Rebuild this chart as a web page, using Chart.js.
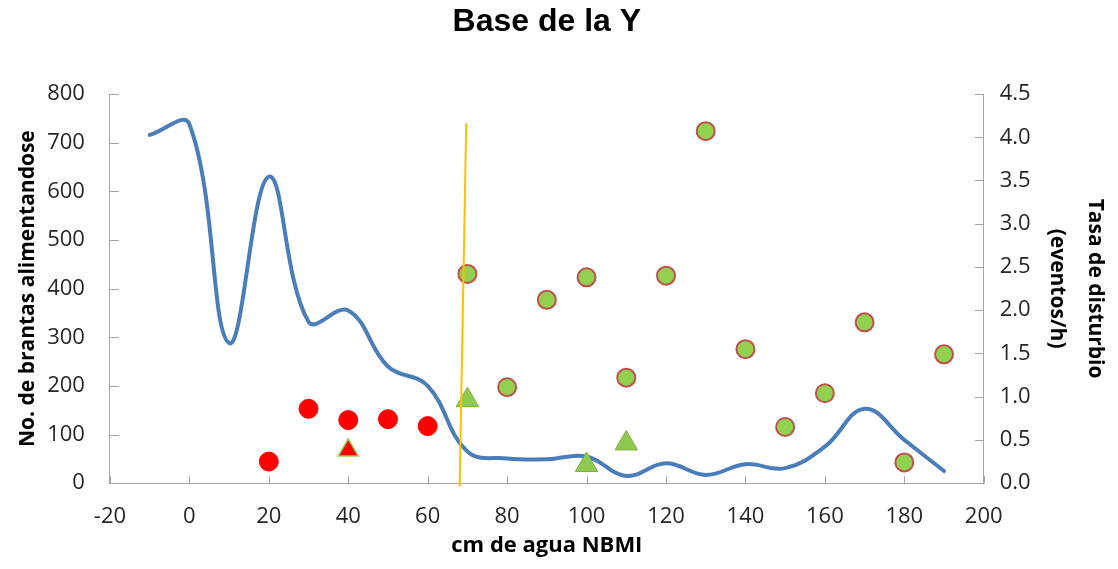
<!DOCTYPE html>
<html>
<head>
<meta charset="utf-8">
<script src="https://cdn.jsdelivr.net/npm/chart.js@4/dist/chart.umd.min.js"></script>
<style>
html,body{margin:0;padding:0;background:#fff;}
#wrap{width:1118px;height:569px;}
</style>
</head>
<body>
<div id="wrap"><canvas id="c" width="1118" height="569"></canvas></div>
<script>
// ---- data ----
const lineX = [-10, 0, 10, 20, 30, 40, 50, 60, 70, 80, 90, 100, 110, 120, 130, 140, 150, 160, 170, 180, 190];
const brantas = [716, 738, 288, 630, 332, 355, 240, 200, 65, 51, 49, 55, 15, 41, 17, 39, 31, 75, 153, 89, 25];

const greenCircleX = [70, 80, 90, 100, 110, 120, 130, 140, 150, 160, 170, 180, 190];
const greenCircleY = [2.42, 1.11, 2.12, 2.38, 1.22, 2.40, 4.07, 1.55, 0.65, 1.04, 1.86, 0.24, 1.49];

const redCircleX = [20, 30, 40, 50, 60];
const redCircleY = [0.25, 0.86, 0.73, 0.74, 0.66];

const greenTriX = [70, 100, 110];
const greenTriY = [0.96, 0.21, 0.46];

const redTriX = [40];
const redTriY = [0.38];

const thresholdX = [69.7, 68.05];
const thresholdY = [740, -7];

const xMin = -20, xMax = 200, xStep = 20;
const yMin = 0, yMax = 800, yStep = 100;
const y2Min = 0, y2Max = 4.5, y2Step = 0.5;

const titleText = 'Base de la Y';
const xTitle = 'cm de agua NBMI';
const yTitle = 'No. de brantas alimentandose';
const y2Title = ['Tasa de disturbio', '(eventos/h)'];

const pts = (xs, ys) => xs.map((x, i) => ({x: x, y: ys[i]}));

const axisColor = '#a6a6a6';
const tickFont = {family: "'Open Sans', sans-serif", size: 22};
const axTitleFont = {family: "'Open Sans', sans-serif", size: 21, weight: 'bold'};

const innerTicks = {
  id: 'innerTicks',
  beforeDatasetsDraw(chart) {
    const {ctx, chartArea: a, scales} = chart;
    ctx.save();
    ctx.strokeStyle = axisColor;
    ctx.lineWidth = 1;
    ctx.beginPath();
    scales.x.ticks.forEach(t => {
      const px = Math.round(scales.x.getPixelForValue(t.value)) + 0.5;
      ctx.moveTo(px, a.bottom); ctx.lineTo(px, a.bottom - 7);
    });
    scales.y.ticks.forEach(t => {
      const py = Math.round(scales.y.getPixelForValue(t.value)) + 0.5;
      ctx.moveTo(a.left, py); ctx.lineTo(a.left + 9, py);
    });
    scales.y2.ticks.forEach(t => {
      const py = Math.round(scales.y2.getPixelForValue(t.value)) + 0.5;
      ctx.moveTo(a.right, py); ctx.lineTo(a.right - 9, py);
    });
    ctx.stroke();
    ctx.restore();
  }
};

new Chart(document.getElementById('c'), {
  type: 'scatter',
  data: {
    datasets: [
      {
        label: 'umbral',
        data: pts(thresholdX, thresholdY),
        yAxisID: 'y',
        showLine: true,
        borderColor: '#ffc000',
        borderWidth: 2,
        pointRadius: 0,
        clip: false
      },
      {
        label: 'tri rojo',
        data: pts(redTriX, redTriY),
        yAxisID: 'y2',
        pointStyle: 'triangle',
        pointRadius: 11.5,
        backgroundColor: '#ff0000',
        borderColor: '#92d050',
        borderWidth: 1.5
      },
      {
        label: 'tri verde',
        data: pts(greenTriX, greenTriY),
        yAxisID: 'y2',
        pointStyle: 'triangle',
        pointRadius: 13,
        backgroundColor: '#8fc94f',
        borderColor: '#7fb043',
        borderWidth: 1
      },
      {
        label: 'circ verde',
        data: pts(greenCircleX, greenCircleY),
        yAxisID: 'y2',
        pointRadius: 9,
        backgroundColor: '#92d050',
        borderColor: '#c0504d',
        borderWidth: 2
      },
      {
        label: 'circ rojo',
        data: pts(redCircleX, redCircleY),
        yAxisID: 'y2',
        pointRadius: 9.5,
        backgroundColor: '#ff0000',
        borderColor: '#ff0000',
        borderWidth: 1
      },
      {
        label: 'brantas',
        data: pts(lineX, brantas),
        yAxisID: 'y',
        showLine: true,
        tension: 0.4,
        borderColor: '#4a7ebb',
        borderWidth: 4,
        pointRadius: 0,
        borderCapStyle: 'round',
        borderJoinStyle: 'round'
      }
    ]
  },
  options: {
    responsive: false,
    animation: false,
    devicePixelRatio: 1,
    layout: {padding: {left: 15.4, right: 4, top: 0, bottom: 10}},
    plugins: {
      legend: {display: false},
      tooltip: {enabled: false},
      title: {
        display: true,
        text: titleText,
        fullSize: false,
        color: '#000',
        font: {family: "'Liberation Sans', Arial, sans-serif", size: 32, weight: 'bold'},
        padding: {top: 2.8, bottom: 52.8}
      }
    },
    scales: {
      x: {
        type: 'linear',
        position: 'bottom',
        min: xMin, max: xMax,
        ticks: {stepSize: xStep, color: '#262626', font: tickFont, padding: 20.3, maxRotation: 0, autoSkip: false},
        grid: {drawOnChartArea: false, drawTicks: false},
        border: {color: axisColor, width: 1},
        title: {display: true, text: xTitle, color: '#000', font: Object.assign({}, axTitleFont, {size: 22}), padding: {top: -17.6, bottom: 0}}
      },
      y: {
        type: 'linear',
        position: 'left',
        min: yMin, max: yMax,
        ticks: {stepSize: yStep, color: '#262626', font: tickFont, padding: 25},
        grid: {drawOnChartArea: false, drawTicks: false},
        border: {color: axisColor, width: 1},
        title: {display: true, text: yTitle, color: '#000', font: axTitleFont, padding: {top: 0, bottom: -18.4}}
      },
      y2: {
        type: 'linear',
        position: 'right',
        min: y2Min, max: y2Max,
        ticks: {stepSize: y2Step, color: '#262626', font: tickFont, padding: 16, callback: v => Number(v).toFixed(1)},
        grid: {drawOnChartArea: false, drawTicks: false},
        border: {color: axisColor, width: 1},
        title: {display: true, text: y2Title, color: '#000', font: Object.assign({}, axTitleFont, {lineHeight: 1.81}), padding: {top: 0, bottom: -8.7}}
      }
    }
  },
  plugins: [innerTicks]
});
</script>
</body>
</html>
